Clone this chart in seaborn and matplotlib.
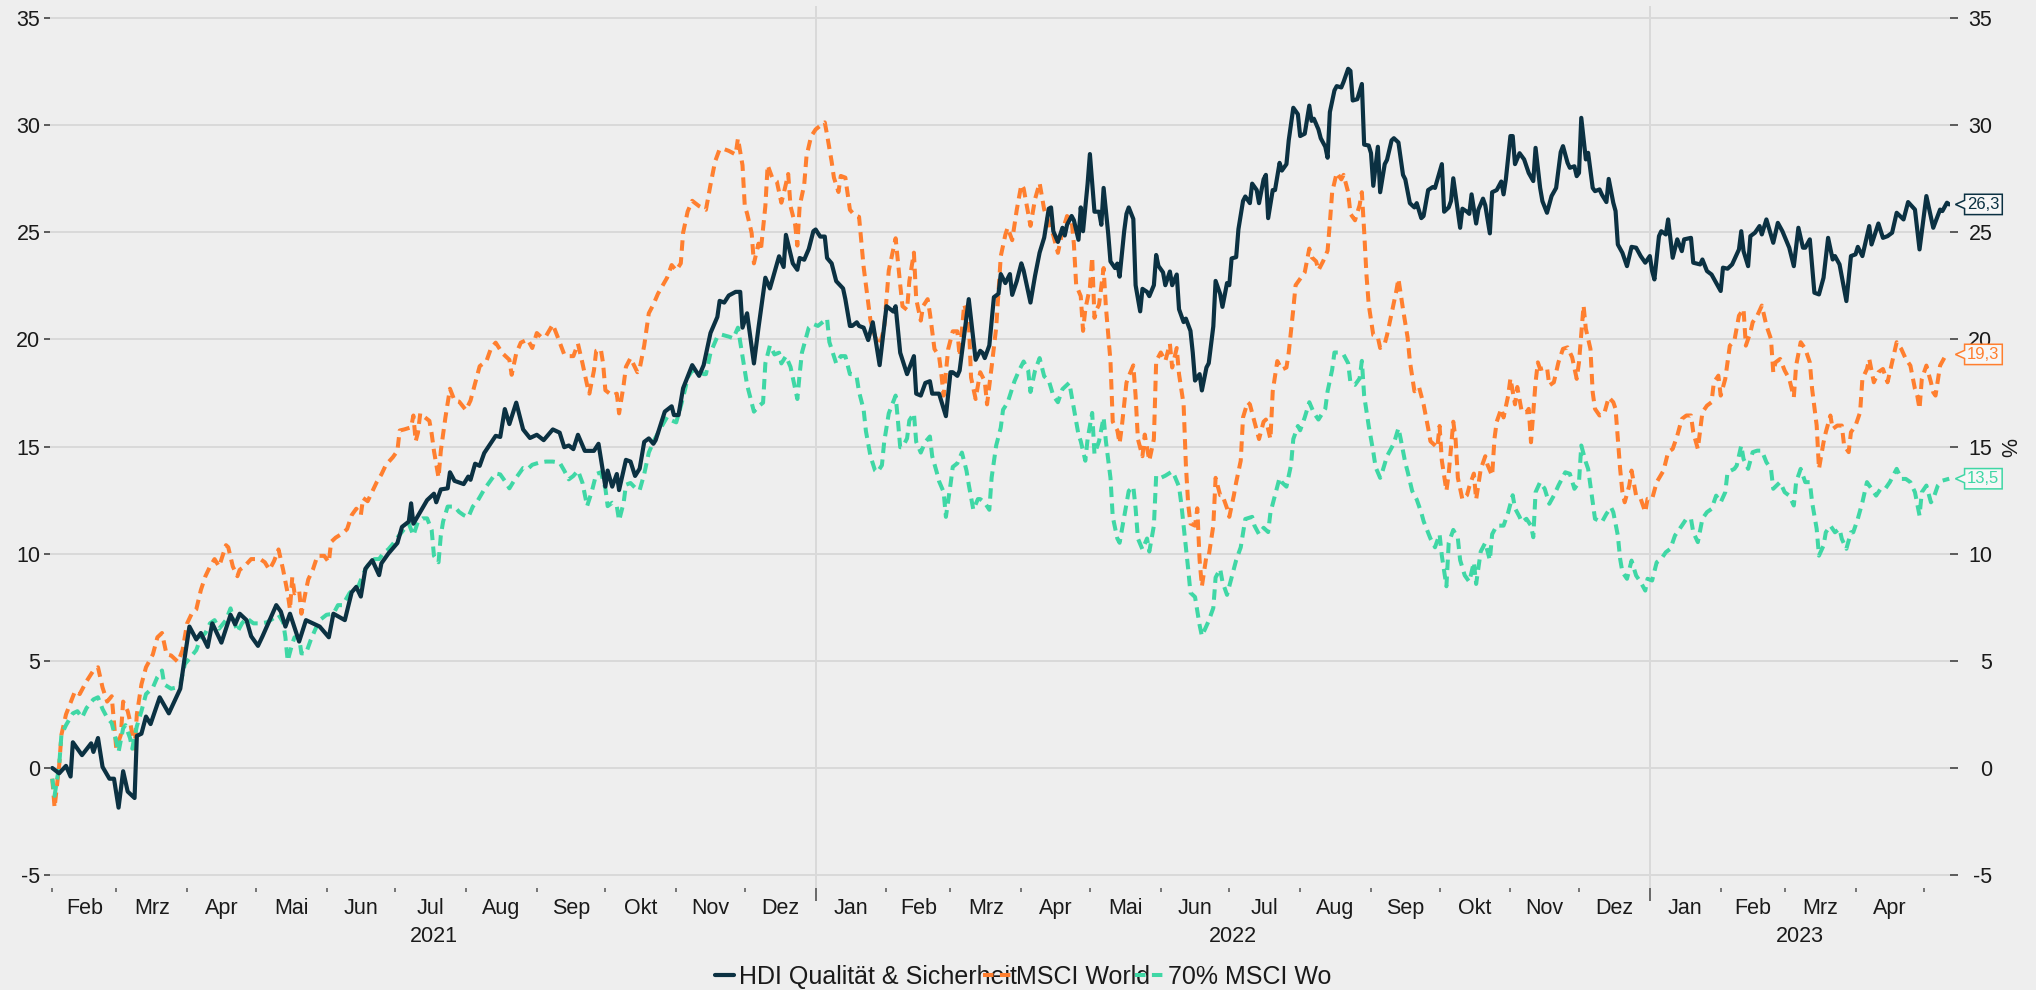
import numpy as np
import pandas as pd
import matplotlib
matplotlib.use("Agg")
import matplotlib.pyplot as plt
import matplotlib.dates as mdates
from matplotlib.path import Path
from matplotlib.lines import Line2D
import seaborn as sns

# ---------------- data ----------------
START = "2021-02-01"          # first trading day shown; points are (day offset, % value)
series_names = ["HDI Qualität & Sicherheit", "MSCI World", "70% MSCI Wo"]
end_labels = ["26,3", "19,3", "13,5"]
month_names = ["Feb", "Mrz", "Apr", "Mai", "Jun", "Jul", "Aug", "Sep", "Okt", "Nov", "Dez",
               "Jan", "Feb", "Mrz", "Apr", "Mai", "Jun", "Jul", "Aug", "Sep", "Okt", "Nov", "Dez",
               "Jan", "Feb", "Mrz", "Apr"]
year_names = ["2021", "2022", "2023"]
y_ticks = [-5, 0, 5, 10, 15, 20, 25, 30, 35]

hdi_points = [
    (0, 0.0), (3, -0.25), (6, 0.1), (8, -0.4), (9, 1.2), (13, 0.6), (17, 1.15), (18, 0.75), (20, 1.4),
    (22, 0.05), (25, -0.5), (27, -0.5), (29, -1.85), (31, -0.15), (33, -1.1), (36, -1.4), (37, 1.5),
    (39, 1.6), (41, 2.4), (43, 2.05), (47, 3.3), (51, 2.55), (56, 3.7), (58, 5.2), (60, 6.6), (63, 6.0),
    (65, 6.3), (68, 5.65), (70, 6.75), (74, 5.85), (78, 7.15), (80, 6.7), (82, 7.2), (85, 6.9), (87, 6.15),
    (90, 5.7), (92, 6.15), (98, 7.6), (100, 7.3), (102, 6.6), (104, 7.2), (108, 5.9), (111, 6.9), (117, 6.6),
    (121, 6.1), (123, 7.2), (128, 6.9), (131, 8.2), (133, 8.45), (135, 8.0), (137, 9.3), (140, 9.7),
    (143, 9.0), (144, 9.55), (147, 10.0), (151, 10.5), (153, 11.25), (156, 11.5), (157, 12.35), (158, 11.4),
    (164, 12.5), (167, 12.8), (168, 12.4), (170, 13.0), (173, 13.05), (174, 13.8), (176, 13.4), (180, 13.25),
    (182, 13.6), (183, 13.45), (185, 14.2), (187, 14.1), (189, 14.7), (194, 15.5), (196, 15.45), (198, 16.75),
    (200, 16.05), (203, 17.05), (206, 15.8), (209, 15.4), (212, 15.55), (215, 15.3), (219, 15.8), (222, 15.65),
    (224, 14.97), (226, 15.05), (228, 14.88), (230, 15.55), (233, 14.8), (235, 14.8), (237, 14.8), (239, 15.13),
    (242, 13.13), (243, 13.88), (245, 13.13), (247, 13.72), (248, 12.97), (251, 14.38), (253, 14.3),
    (255, 13.63), (257, 13.97), (259, 15.22), (261, 15.38), (263, 15.13), (264, 15.3), (268, 16.63),
    (271, 16.88), (272, 16.47), (274, 16.47), (276, 17.72), (280, 18.8), (283, 18.3), (285, 18.8),
    (288, 20.3), (291, 21.05), (292, 21.8), (294, 21.72), (296, 22.05), (299, 22.22), (301, 22.22),
    (302, 20.55), (304, 21.22), (307, 18.88), (309, 20.55), (312, 22.88), (314, 22.38), (318, 23.88),
    (320, 23.38), (321, 24.88), (324, 23.55), (326, 23.25), (327, 23.8), (329, 23.72), (331, 24.22),
    (333, 25.05), (334, 25.13), (336, 24.8), (338, 24.8), (339, 23.8), (341, 23.55), (343, 22.72),
    (346, 22.38), (347, 21.88), (349, 20.63), (350, 20.63), (352, 20.8), (353, 20.63), (355, 20.55),
    (357, 19.97), (359, 20.8), (362, 18.8), (365, 21.55), (366, 21.47), (368, 21.3), (369, 21.55),
    (371, 19.38), (374, 18.38), (377, 19.22), (378, 17.47), (380, 17.38), (382, 17.97), (384, 18.05),
    (385, 17.47), (388, 17.47), (391, 16.42), (393, 18.47), (394, 18.47), (396, 18.3), (397, 18.55),
    (399, 20.22), (401, 21.88), (404, 19.05), (406, 19.47), (407, 19.38), (408, 19.13), (410, 19.72),
    (412, 21.97), (414, 22.13), (415, 23.05), (417, 22.63), (419, 23.05), (420, 22.08), (422, 22.72),
    (424, 23.55), (425, 23.22), (428, 21.72), (430, 22.97), (432, 24.05),
    (434, 24.75), (436, 26.1), (437, 26.16), (438, 25.05), (440, 24.55), (442, 25.21), (443, 24.85),
    (444, 25.35), (446, 25.76), (447, 25.56), (449, 24.65), (450, 26.16), (451, 25.05), (453, 27.27),
    (454, 28.65), (456, 25.96), (458, 25.96), (459, 25.35), (460, 27.07), (462, 24.95), (463, 23.64),
    (465, 23.33), (466, 23.54), (467, 22.93), (469, 25.05), (470, 25.86), (471, 26.16), (473, 25.62),
    (474, 22.53), (476, 21.31), (477, 22.36), (479, 22.22), (480, 22.02), (482, 22.53), (483, 23.94),
    (484, 23.43), (486, 23.13), (487, 22.53), (489, 23.17), (490, 22.53), (492, 23.03), (493, 21.41),
    (495, 20.81), (496, 20.97), (498, 20.4), (499, 19.39), (500, 18.08), (502, 18.38), (503, 17.62),
    (505, 18.69), (506, 18.89), (508, 20.61), (509, 22.73), (511, 22.12), (512, 21.52), (514, 22.63),
    (515, 22.53), (516, 23.78), (518, 23.84), (519, 25.15), (521, 26.46), (522, 26.67), (524, 26.36),
    (525, 27.27), (527, 26.97), (528, 26.36), (530, 27.47), (531, 27.68), (532, 25.66), (534, 26.97),
    (535, 26.97), (537, 28.24), (538, 27.88), (540, 28.18), (541, 29.29), (543, 30.81), (545, 30.51),
    (546, 29.49), (548, 29.6), (550, 30.91), (551, 30.2), (552, 30.3), (554, 29.8), (555, 29.39),
    (557, 28.99), (558, 28.48), (559, 30.61), (561, 31.62), (562, 31.82), (564, 31.76), (565, 32.02),
    (567, 32.63), (568, 32.53), (569, 31.15), (571, 31.21), (573, 31.92), (574, 29.09), (576, 29.05),
    (577, 28.69), (578, 27.17), (580, 28.99), (581, 26.87), (583, 28.18), (584, 28.38), (586, 29.29),
    (587, 29.39), (589, 29.19), (591, 27.68), (592, 27.47), (594, 26.36), (596, 26.16), (597, 26.36),
    (599, 25.66), (600, 25.76), (602, 26.97), (604, 27.11), (605, 27.07), (608, 28.18), (609, 25.96),
    (611, 26.16), (612, 26.46), (613, 27.52), (616, 25.21), (617, 26.1), (619, 25.96), (620, 25.86),
    (621, 26.77), (623, 25.41), (624, 26.06), (626, 26.57), (627, 26.26), (629, 24.95), (630, 26.87),
    (632, 26.97), (634, 27.37), (635, 26.77), (636, 27.47), (638, 29.49), (639, 29.49), (640, 28.18),
    (642, 28.69),
    (644, 28.4), (646, 27.77), (648, 27.39), (649, 28.94), (651, 27.07), (652, 26.45), (654, 25.91),
    (656, 26.69), (658, 27.07), (660, 28.74), (661, 29.02), (663, 28.24), (664, 28.01), (666, 28.08),
    (667, 27.62), (668, 27.77), (669, 30.34), (671, 28.4), (672, 28.71), (674, 27.07), (675, 26.92),
    (677, 27.0), (678, 26.76), (680, 26.41), (681, 27.49), (683, 26.38), (684, 25.99), (685, 24.43),
    (687, 24.04), (689, 23.42), (691, 24.32), (693, 24.28), (695, 23.89), (697, 23.58), (699, 23.89),
    (700, 23.19), (701, 22.8), (703, 24.82), (704, 25.05), (706, 24.9), (707, 25.6), (709, 23.81),
    (711, 24.67), (713, 24.12), (714, 24.67), (717, 24.74), (718, 23.58), (721, 23.5), (722, 23.73),
    (724, 23.19), (726, 23.03), (728, 22.65), (730, 22.26), (731, 23.35), (733, 23.3), (735, 23.5),
    (738, 24.2), (739, 25.05), (740, 24.12), (742, 23.42), (743, 24.82), (745, 24.98), (747, 25.29),
    (748, 24.9), (750, 25.6), (753, 24.51), (755, 25.44), (757, 25.05), (760, 24.28), (762, 23.42),
    (764, 25.21), (766, 24.28), (767, 24.28), (769, 24.67), (771, 22.18), (773, 22.1), (775, 22.88),
    (777, 24.74), (779, 23.73), (780, 23.89), (782, 23.5), (785, 21.79), (787, 23.89), (789, 23.97),
    (790, 24.32), (792, 23.89), (795, 25.29), (796, 24.43), (799, 25.41), (801, 24.74), (803, 24.82),
    (805, 24.98), (807, 25.91), (810, 25.6), (812, 26.41), (815, 26.06), (817, 24.2), (820, 26.69),
    (823, 25.21), (826, 26.06), (827, 25.99), (829, 26.38), (830, 26.3),
]

msci_points = [
    (0, -0.5), (1, -1.85), (3, 0.1), (4, 1.55), (6, 2.5), (8, 3.05), (10, 3.6), (12, 3.45), (15, 4.05),
    (18, 4.55), (20, 4.7), (22, 3.75), (24, 3.1), (26, 3.35), (28, 0.9), (30, 1.55), (31, 3.1), (33, 2.65),
    (34, 2.2), (36, 0.9), (37, 2.5), (39, 3.9), (41, 4.7), (44, 5.3), (46, 6.1), (48, 6.3), (50, 5.3),
    (52, 5.25), (55, 4.95), (57, 5.5), (59, 6.75), (61, 7.2), (63, 7.4), (65, 8.3), (67, 8.95), (69, 9.4),
    (71, 9.75), (73, 9.4), (76, 10.4), (77, 10.3), (79, 9.4), (81, 8.95), (82, 9.25), (84, 9.4), (87, 9.75),
    (89, 9.75), (91, 9.75), (93, 9.6), (95, 9.25), (97, 9.65), (99, 10.2), (101, 9.25), (103, 8.15),
    (104, 7.4), (105, 8.9), (106, 8.15), (108, 8.3), (109, 7.2), (111, 8.3), (112, 8.8), (114, 9.25),
    (116, 9.9), (119, 9.9), (121, 9.6), (122, 10.55), (124, 10.75), (127, 10.95), (129, 11.15), (131, 11.8),
    (133, 12.1), (135, 11.8), (136, 12.6), (138, 12.45), (140, 12.9), (142, 13.35), (144, 13.7), (146, 14.15),
    (149, 14.5), (151, 14.8), (152, 15.75), (154, 15.8), (157, 15.9), (158, 16.45), (159, 15.25),
    (160, 15.65), (161, 16.55), (162, 16.45), (165, 16.2), (166, 15.6), (167, 14.8), (169, 13.55),
    (170, 14.8), (172, 16.35), (174, 17.7), (176, 17.15), (178, 17.1), (181, 16.7), (183, 17.15),
    (185, 17.95), (187, 18.75), (190, 19.0), (192, 19.6), (194, 19.85), (197, 19.35), (200, 19.05),
    (201, 18.35), (203, 19.35), (205, 19.85), (208, 20.0), (210, 19.6), (212, 20.3), (214, 20.1),
    (216, 20.15), (219, 20.7), (221, 20.15),
    (224, 19.3), (226, 19.22), (228, 19.22), (230, 19.8), (232, 18.88), (234, 17.88), (235, 17.47),
    (237, 18.55), (238, 19.47), (240, 19.55), (241, 18.88), (242, 17.63), (245, 17.38), (247, 17.47),
    (248, 16.55), (250, 17.88), (251, 18.72), (253, 19.13), (256, 18.47), (257, 18.63), (259, 19.72),
    (261, 21.22), (263, 21.63), (265, 22.13), (269, 22.88), (271, 23.47), (273, 23.22), (275, 23.55),
    (276, 24.97), (278, 25.97), (280, 26.47), (283, 26.22), (286, 26.05), (288, 27.22), (290, 28.3),
    (292, 28.88), (294, 28.88), (296, 28.8), (299, 28.63), (300, 29.38), (302, 28.13), (303, 26.22),
    (304, 25.88), (306, 24.97), (307, 23.55), (309, 24.47), (310, 24.13), (312, 26.22), (313, 28.13),
    (315, 27.55), (317, 27.38), (319, 26.38), (320, 26.8), (322, 27.72), (323, 26.22), (325, 25.38),
    (326, 24.38), (327, 26.22), (329, 27.22), (330, 28.55), (332, 29.47), (334, 29.8), (336, 29.97),
    (338, 30.13), (339, 29.55), (341, 28.3), (342, 27.55), (344, 26.88), (345, 27.63), (347, 27.55),
    (349, 26.05), (351, 25.8), (353, 25.72), (354, 24.55), (355, 23.38), (357, 21.72), (358, 20.88),
    (360, 20.13), (362, 19.72), (364, 20.55), (366, 23.22), (368, 24.22), (369, 24.72), (371, 22.55),
    (372, 21.55), (374, 21.38), (375, 22.72), (377, 24.05), (378, 21.88), (380, 20.88), (381, 21.55),
    (383, 21.88), (384, 21.22), (386, 19.55), (388, 19.22), (389, 18.38), (390, 17.38), (392, 19.55),
    (394, 20.38), (396, 20.38), (397, 19.22), (399, 21.63), (401, 20.88), (402, 18.22), (404, 17.22),
    (406, 18.47), (408, 18.05), (409, 16.97), (411, 18.72), (413, 20.55), (415, 23.88), (417, 24.88),
    (418, 25.22), (420, 24.63), (422, 26.05), (424, 27.22), (425, 27.05), (428, 25.3), (430, 26.55),
    (432, 27.3),
    (434, 26.06), (436, 25.45), (438, 24.85), (440, 24.04), (442, 25.05), (444, 25.76), (446, 25.56),
    (447, 24.44), (448, 22.53), (450, 22.02), (451, 20.4), (452, 21.41), (454, 22.42), (455, 23.84),
    (456, 21.01), (457, 21.41), (458, 21.62), (460, 23.33), (461, 21.52), (463, 18.99), (464, 16.16),
    (466, 15.76), (467, 15.15), (468, 15.96), (470, 17.98), (471, 18.28), (473, 18.79), (474, 17.37),
    (475, 15.35), (477, 14.55), (478, 15.56), (480, 14.34), (482, 15.35), (483, 18.99), (485, 19.39),
    (486, 19.19), (487, 18.99), (489, 19.8), (490, 18.69), (492, 19.6), (493, 18.38), (495, 16.97),
    (496, 14.14), (497, 12.32), (498, 11.41), (500, 11.31), (501, 12.12), (502, 9.7), (503, 8.48),
    (505, 9.9), (506, 9.9), (508, 11.31), (509, 13.54), (511, 12.73), (512, 12.73), (514, 12.12),
    (515, 11.72), (517, 12.73), (518, 13.33), (520, 14.34), (521, 16.36), (523, 17.07), (524, 16.97),
    (526, 16.16), (528, 15.35), (530, 16.16), (531, 16.26), (533, 15.35), (534, 17.58), (536, 18.99),
    (538, 18.59), (540, 18.69), (541, 19.39), (543, 21.41), (544, 22.53), (546, 22.83), (548, 23.13),
    (550, 24.24), (551, 23.84), (553, 23.64), (554, 23.23), (556, 23.64), (558, 24.14), (559, 25.45),
    (560, 26.87), (562, 27.78), (564, 27.47), (565, 27.68), (567, 26.87), (568, 25.86), (570, 25.56),
    (572, 26.26), (573, 26.87), (574, 25.05), (575, 23.03), (576, 21.62), (578, 20.2), (580, 20.1),
    (581, 19.6), (583, 19.8), (584, 20.2), (586, 21.21), (588, 22.22), (589, 22.83), (591, 21.41),
    (593, 20.1), (594, 18.99), (596, 17.58), (598, 17.78), (600, 16.97), (602, 15.86), (603, 15.25),
    (606, 14.95), (607, 15.96), (608, 14.34), (610, 12.93), (611, 13.74), (613, 16.16), (614, 15.35),
    (615, 13.54), (617, 12.53), (619, 12.73), (620, 13.13), (622, 13.74), (623, 12.53), (625, 13.94),
    (627, 14.55), (628, 14.14), (630, 13.64), (631, 15.35), (632, 16.16), (634, 16.77), (635, 16.36),
    (637, 17.37), (638, 18.18), (640, 16.97), (641, 17.78),
    (643, 16.6), (645, 16.6), (646, 16.76), (647, 15.2), (649, 18.0), (650, 18.93), (651, 18.62),
    (654, 18.7), (655, 17.85), (657, 18.0), (659, 18.93), (661, 19.56), (663, 19.63), (665, 19.17),
    (667, 18.16), (668, 18.93), (670, 21.58), (671, 20.49), (673, 19.56), (674, 17.53), (675, 16.76),
    (677, 16.45), (679, 16.52), (681, 17.3), (683, 17.07), (684, 16.76), (685, 15.36), (686, 13.96),
    (687, 12.87), (688, 12.4), (690, 13.18), (691, 13.88), (693, 12.71), (695, 12.56), (697, 11.94),
    (698, 12.56), (700, 12.56), (702, 13.34), (705, 13.88), (707, 14.74), (709, 14.89), (711, 15.51),
    (713, 16.29), (715, 16.45), (717, 16.45), (718, 15.67), (720, 14.89), (722, 16.6), (724, 16.91),
    (726, 17.07), (727, 18.0), (729, 18.31), (730, 17.38), (732, 18.16), (734, 19.71), (736, 19.95),
    (738, 21.11), (740, 21.42), (741, 19.71), (743, 20.33), (744, 20.8), (746, 21.11), (748, 21.58),
    (750, 20.65), (752, 20.02), (753, 18.47), (754, 18.93), (756, 19.09), (758, 18.55), (760, 18.16),
    (762, 17.3), (763, 18.78), (765, 19.87), (767, 19.56), (769, 18.93), (770, 17.69), (772, 15.98),
    (773, 13.96), (775, 15.2), (776, 15.67), (778, 16.45), (779, 15.82), (781, 15.98), (783, 15.98),
    (784, 15.05), (786, 14.74), (787, 15.67), (789, 15.98), (791, 16.6), (792, 18.16), (794, 18.62),
    (795, 19.09), (797, 18.0), (799, 18.47), (801, 18.62), (803, 18.0), (805, 18.93), (807, 19.87),
    (809, 19.56), (811, 19.09), (813, 18.78), (815, 17.69), (816, 17.38), (817, 16.76), (818, 18.16),
    (820, 18.78), (822, 18.0), (823, 17.53), (824, 17.38), (826, 18.78), (828, 19.17), (830, 19.3),
]

msci70_points = [
    (0, -0.5), (1, -1.3), (3, 0.1), (4, 1.55), (6, 2.0), (9, 2.55), (11, 2.65), (13, 2.35), (15, 2.8),
    (18, 3.2), (20, 3.3), (22, 2.75), (24, 2.35), (26, 2.1), (28, 1.25), (29, 0.75), (31, 1.85), (32, 2.0),
    (34, 1.4), (35, 0.9), (37, 1.95), (39, 2.65), (41, 3.45), (44, 3.75), (46, 4.25), (48, 4.55), (49, 3.9),
    (52, 3.7), (54, 3.75), (56, 3.9), (58, 4.85), (60, 5.1), (63, 5.5), (65, 6.1), (67, 6.3), (69, 6.75),
    (71, 6.9), (73, 6.5), (76, 6.9), (78, 7.45), (79, 7.05), (81, 6.35), (83, 6.75), (85, 7.0), (88, 6.75),
    (91, 6.75), (94, 6.8), (97, 7.0), (99, 7.15), (101, 6.8), (102, 6.1), (103, 5.0), (105, 5.8), (106, 6.1),
    (108, 6.1), (109, 5.35), (111, 5.35), (113, 5.95), (115, 6.45), (117, 6.9), (120, 7.15), (123, 7.2),
    (125, 7.6), (127, 7.6), (130, 8.15), (132, 8.4), (134, 8.5), (136, 9.05), (138, 9.45), (141, 9.75),
    (143, 9.75), (145, 10.05), (147, 10.2), (149, 10.45), (151, 10.75), (154, 11.15), (156, 11.4),
    (158, 10.85), (160, 11.5), (162, 11.65), (164, 11.65), (166, 11.1), (167, 9.9), (169, 9.6), (170, 10.85),
    (171, 11.5), (173, 12.2), (176, 12.2), (178, 11.95), (180, 11.8), (182, 11.7), (184, 12.2), (186, 12.45),
    (189, 13.0), (191, 13.3), (194, 13.75), (196, 13.7), (198, 13.4), (200, 13.05), (202, 13.4), (204, 13.7),
    (206, 14.0), (208, 13.95), (210, 14.15), (213, 14.25), (216, 14.3), (219, 14.3), (222, 14.25),
    (224, 13.88), (226, 13.47), (228, 13.63), (230, 13.88), (232, 13.3), (234, 12.22), (236, 12.88),
    (238, 13.72), (240, 13.8), (242, 13.05), (243, 12.22), (245, 12.38), (247, 12.22), (248, 11.55),
    (250, 12.38), (251, 13.22), (253, 13.3), (256, 12.97), (257, 12.97), (259, 13.72), (261, 14.72),
    (263, 15.22), (265, 15.63), (269, 16.38), (271, 16.22), (273, 16.13), (275, 16.88), (277, 17.72),
    (278, 18.22), (280, 18.55), (283, 18.55), (285, 18.38), (286, 18.38), (288, 19.38), (291, 20.13),
    (293, 20.22), (296, 20.13), (298, 20.05), (300, 20.55), (301, 19.88), (303, 18.55), (304, 17.88),
    (306, 17.05), (307, 16.63), (309, 16.88), (311, 17.05), (312, 18.88), (314, 19.72), (316, 19.3),
    (318, 19.38), (319, 18.88), (321, 19.22), (323, 18.72), (324, 18.22), (326, 17.22), (327, 18.38),
    (328, 19.38), (331, 20.55), (333, 20.72), (335, 20.63), (337, 20.8), (339, 20.97), (340, 19.88),
    (342, 19.22), (343, 18.88), (345, 19.22), (347, 19.22), (349, 18.38), (350, 18.38), (352, 18.22),
    (353, 17.55), (355, 16.72), (356, 15.72), (358, 14.55), (360, 13.88), (361, 13.8), (363, 14.13),
    (364, 15.22), (366, 16.55), (369, 17.38), (370, 16.22), (371, 14.97), (372, 14.97), (374, 15.38),
    (375, 16.22), (377, 16.55), (378, 15.22), (380, 14.72), (382, 15.22), (384, 15.47), (385, 14.55),
    (387, 13.8), (388, 13.38), (390, 12.88), (391, 11.72), (393, 13.22), (394, 14.05), (396, 14.22),
    (398, 14.72), (400, 13.88), (401, 13.22), (403, 12.05), (405, 12.55), (406, 12.55), (408, 12.38),
    (410, 12.05), (411, 13.55), (413, 15.05), (415, 15.88), (416, 16.72), (418, 17.05), (419, 17.38),
    (421, 18.05), (423, 18.55), (425, 18.97), (427, 18.55), (428, 17.55), (430, 18.55), (432, 19.13),
    (434, 18.28), (436, 18.08), (438, 17.37), (440, 17.07), (442, 17.68), (445, 17.98), (447, 16.77),
    (449, 15.56), (450, 15.25), (452, 14.34), (453, 15.35), (455, 16.57), (456, 14.65), (458, 15.25),
    (460, 16.36), (461, 15.25), (463, 13.54), (464, 11.72), (466, 10.71), (467, 10.51), (469, 11.72),
    (471, 12.93), (473, 13.13), (474, 12.12), (475, 10.71), (477, 10.2), (479, 10.71), (480, 10.1),
    (482, 11.31), (483, 13.64), (485, 13.54), (487, 13.64), (490, 13.84), (491, 13.64), (493, 13.13),
    (494, 12.32), (495, 11.31), (497, 9.29), (498, 8.18), (500, 7.98), (502, 6.67), (503, 6.16),
    (506, 6.87), (508, 7.47), (509, 8.89), (511, 9.29), (512, 8.69), (514, 8.08), (516, 8.89), (518, 9.7),
    (520, 10.3), (522, 11.62), (525, 11.72), (526, 11.31), (528, 10.91), (530, 11.21), (532, 11.01),
    (533, 11.92), (535, 12.73), (537, 13.54), (538, 13.33), (540, 13.13), (542, 14.14), (543, 15.35),
    (545, 15.96), (546, 15.76), (548, 16.36), (550, 17.07), (552, 16.57), (554, 16.26), (557, 16.77),
    (558, 17.58), (560, 18.59), (561, 19.39), (563, 19.39), (565, 19.29), (567, 18.89), (568, 17.98),
    (570, 17.88), (572, 18.18), (573, 19.0), (574, 17.37), (576, 15.96), (578, 14.75), (579, 14.04),
    (581, 13.54), (582, 13.84), (584, 14.55), (587, 15.15), (589, 15.86), (590, 15.35), (592, 14.24),
    (593, 13.84), (595, 12.93), (597, 12.53), (599, 11.92), (600, 11.52), (603, 10.71), (605, 10.3),
    (607, 10.91), (608, 9.9), (610, 8.48), (611, 10.51), (613, 11.11), (615, 10.71), (616, 9.7),
    (618, 8.99), (620, 8.69), (622, 9.6), (623, 8.59), (625, 10.1), (627, 10.51), (629, 9.7), (630, 10.91),
    (632, 11.31), (635, 11.31), (637, 11.92), (639, 12.73), (640, 12.12), (642, 11.72),
    (643, 11.47), (645, 11.63), (647, 11.31), (648, 10.77), (649, 12.87), (651, 13.34), (653, 13.03),
    (655, 12.33), (657, 12.71), (659, 13.18), (662, 13.8), (664, 13.73), (666, 13.03), (668, 13.34),
    (669, 15.05), (671, 14.27), (672, 13.96), (674, 12.4), (675, 11.63), (678, 11.47), (680, 11.86),
    (682, 12.17), (683, 11.94), (685, 10.85), (686, 9.76), (687, 9.14), (689, 8.83), (691, 9.68),
    (693, 8.98), (695, 8.67), (697, 8.28), (698, 8.83), (700, 8.75), (702, 9.6), (704, 9.76), (706, 10.07),
    (708, 10.23), (710, 10.85), (713, 11.31), (715, 11.63), (717, 11.63), (718, 11.0), (720, 10.54),
    (722, 11.63), (724, 11.94), (726, 12.09), (728, 12.71), (730, 12.4), (732, 12.87), (733, 13.8),
    (736, 13.96), (737, 14.11), (739, 15.05), (740, 14.42), (742, 13.96), (744, 14.74), (746, 14.81),
    (748, 14.81), (750, 14.27), (752, 13.96), (753, 13.03), (756, 13.34), (758, 12.87), (760, 12.71),
    (762, 12.25), (763, 13.34), (765, 13.96), (767, 13.34), (769, 13.34), (770, 12.4), (772, 11.16),
    (773, 9.91), (775, 10.38), (776, 11.0), (778, 11.31), (780, 11.0), (782, 11.16), (783, 10.69),
    (785, 10.23), (787, 11.0), (788, 11.0), (790, 11.63), (792, 12.4), (794, 13.34), (796, 13.03),
    (798, 12.71), (800, 13.03), (802, 13.03), (804, 13.34), (807, 13.96), (809, 13.49), (811, 13.49),
    (813, 13.34), (815, 12.87), (817, 11.78), (818, 12.87), (820, 13.18), (822, 12.4), (823, 12.56),
    (825, 13.18), (827, 13.41), (830, 13.5),
]

# ---------------- style ----------------
BG = "#eeeeee"
GRID = "#d9d9d9"
TXT = "#1a1a1a"
colors = ["#0b3142", "#ff7f2f", "#3fd7a5"]
W, H = 2036, 990
FS = 15.5

sns.set_theme(style="white")
plt.rcParams["font.family"] = ["Liberation Sans", "DejaVu Sans"]
plt.rcParams["axes.unicode_minus"] = False

fig = plt.figure(figsize=(W / 100, H / 100), dpi=100, facecolor=BG)
ax = fig.add_axes([50 / W, (H - 888) / H, 1900 / W, 882 / H], facecolor=BG)

start = pd.Timestamp(START)


def to_frame(points):
    days, vals = zip(*points)
    return pd.DataFrame({"Datum": start + pd.to_timedelta(np.array(days), unit="D"),
                         "Wert": np.array(vals, dtype=float)})


frames = [to_frame(hdi_points), to_frame(msci_points), to_frame(msci70_points)]
DASH = (0, (2.6, 1.6))
styles = [dict(lw=3.0, ls="-", z=5), dict(lw=2.9, ls=DASH, z=3), dict(lw=2.9, ls=DASH, z=4)]
line_objs = {}
for i in [1, 2, 0]:
    sns.lineplot(data=frames[i], x="Datum", y="Wert", ax=ax, color=colors[i], linewidth=styles[i]["lw"],
                 linestyle=styles[i]["ls"], estimator=None, zorder=styles[i]["z"])
    line_objs[i] = ax.lines[-1]
if ax.get_legend() is not None:
    ax.get_legend().remove()

x_end = frames[0]["Datum"].iloc[-1]
ax.set_xlim(start - pd.Timedelta(days=1), x_end + pd.Timedelta(hours=8))
ax.set_ylim(-5.6, 35.56)
ax.set_xlabel("")
ax.set_ylabel("")
for s in ax.spines.values():
    s.set_visible(False)

# y axis (left)
ax.set_yticks(y_ticks)
ax.set_yticklabels([str(v) for v in y_ticks])
ax.tick_params(axis="y", left=True, length=4.5, width=1.1, color="#333333", pad=2.5,
               labelsize=FS, labelcolor=TXT)
ax.yaxis.grid(True, color=GRID, lw=1.4)

# x axis: year ticks (long), month ticks (short)
ax.xaxis.set_major_locator(mdates.YearLocator())
ax.xaxis.set_minor_locator(mdates.MonthLocator())
ax.xaxis.set_major_formatter(plt.NullFormatter())
ax.xaxis.set_minor_formatter(plt.NullFormatter())
ax.tick_params(axis="x", which="major", bottom=True, length=9, width=1.1, color="#444444")
ax.tick_params(axis="x", which="minor", bottom=True, length=3, width=1.1, color="#555555")
ax.xaxis.grid(True, which="major", color=GRID, lw=1.4)
ax.xaxis.grid(False, which="minor")
ax.set_axisbelow(True)

# month labels centred in each month, year labels centred under each year
month_starts = pd.date_range(start, periods=len(month_names) + 1, freq="MS")
xt = ax.get_xaxis_transform()
for name, a, b in zip(month_names, month_starts[:-1], month_starts[1:]):
    ax.text(a + (b - a) / 2, -0.0235, name, transform=xt, ha="center", va="center",
            fontsize=FS, color=TXT)
year_bounds = [start, pd.Timestamp("2022-01-01"), pd.Timestamp("2023-01-01"), x_end]
for name, a, b in zip(year_names, year_bounds[:-1], year_bounds[1:]):
    ax.text(a + (b - a) / 2, -0.055, name, transform=xt, ha="center", va="center",
            fontsize=FS, color=TXT)

# right axis (mirrored ticks, % label, end-value callouts)
ax2 = ax.twinx()
ax2.set_ylim(ax.get_ylim())
ax2.set_yticks(y_ticks)
ax2.set_yticklabels([str(v) for v in y_ticks])
ax2.tick_params(axis="y", right=True, length=6, width=1.1, color="#333333", pad=24.5,
                labelsize=FS, labelcolor=TXT)
for lbl in ax2.get_yticklabels():
    lbl.set_horizontalalignment("right")
for s in ax2.spines.values():
    s.set_visible(False)
ax2.grid(False)
ax2.set_ylabel("%", rotation=270, va="center", fontsize=FS, color=TXT)
ax2.yaxis.set_label_coords((2006 - 50) / 1900, 0.5)


def callout_box(x0, y0, width, height, mutation_size):
    pad = 0.16 * mutation_size
    x0, y0 = x0 - pad, y0 - pad
    x1, y1 = x0 + width + 2 * pad, y0 + height + 2 * pad
    h = y1 - y0
    ym = (y0 + y1) / 2
    tip = 0.45 * h
    return Path([(x0, y0), (x1, y0), (x1, y1), (x0, y1), (x0, ym + 0.2 * h),
                 (x0 - tip, ym), (x0, ym - 0.2 * h), (x0, y0)], closed=True)


for i, f in enumerate(frames):
    ax2.annotate(end_labels[i], xy=(f["Datum"].iloc[-1], f["Wert"].iloc[-1]), xytext=(18, 0),
                 textcoords="offset pixels", ha="left", va="center", fontsize=12, color=colors[i],
                 bbox=dict(boxstyle=callout_box, fc="#f7f7f7", ec=colors[i], lw=1.1), zorder=10,
                 annotation_clip=False)

# legend (three entries laid out like the reference, overlapping)
leg_x = [715, 983, 1135]
leg_hl = [0.75, 1.1, 1.1]
for i in range(3):
    src = line_objs[i]
    h = Line2D([], [], color=colors[i], lw=src.get_linewidth(), linestyle=styles[i]["ls"])
    lg = fig.legend([h], [series_names[i]], loc="center left", bbox_to_anchor=(leg_x[i] / W, 1 - 977 / H),
                    frameon=False, fontsize=18, handlelength=leg_hl[i], handletextpad=0.2,
                    borderpad=0, borderaxespad=0)
    for t in lg.get_texts():
        t.set_color(TXT)

fig.savefig("out.png", dpi=100, facecolor=BG)
